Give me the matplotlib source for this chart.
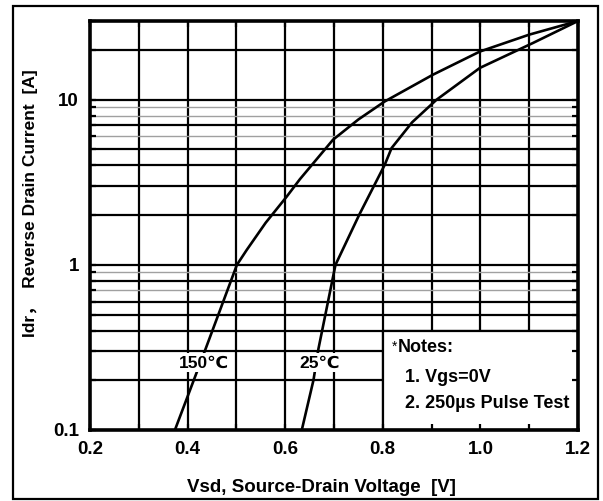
import matplotlib.pyplot as plt
from matplotlib.patches import Rectangle
from matplotlib.ticker import MultipleLocator, LogLocator, NullFormatter
import numpy as np

# curves
vsd_150 = [0.374, 0.436, 0.501, 0.521, 0.560, 0.603, 0.630, 0.698, 0.750, 0.804, 0.903, 0.999, 1.100, 1.200]
idr_150 = [0.10, 0.305, 1.00, 1.23, 1.80, 2.59, 3.30, 5.73, 7.60, 9.77, 14.2, 19.6, 24.8, 30.0]
vsd_25 = [0.634, 0.658, 0.668, 0.703, 0.752, 0.804, 0.818, 0.860, 0.910, 0.999, 1.108, 1.200]
idr_25 = [0.10, 0.201, 0.309, 1.00, 2.02, 4.04, 5.10, 7.30, 10.0, 15.6, 22.1, 30.0]

x_ticks = [0.2, 0.4, 0.6, 0.8, 1.0, 1.2]
x_tick_labels = ["0.2", "0.4", "0.6", "0.8", "1.0", "1.2"]
y_ticks = [0.1, 1, 10]
y_tick_labels = ["0.1", "1", "10"]
notes = ["1. Vgs=0V", "2. 250µs Pulse Test"]

FONT = ["Liberation Sans", "DejaVu Sans"]
plt.rcParams["font.family"] = FONT
plt.rcParams["font.weight"] = "bold"

fig = plt.figure(figsize=(6.03, 5.01), dpi=100)
ax = fig.add_axes([90 / 603, 71 / 501, 488 / 603, 409 / 501])
ax.set_yscale("log")
ax.set_xlim(0.2, 1.2)
ax.set_ylim(0.1, 30)

# grid drawn by hand so the notes box can sit on top of it
for x in np.arange(0.3, 1.15, 0.1):
    ax.axvline(x, color="black", lw=1.6, zorder=1)
h_black = [0.2, 0.3, 0.4, 0.5, 0.6, 0.8, 1, 2, 3, 4, 5, 7, 10, 20]
h_gray = [0.7, 0.9, 6, 8, 9]
for y in h_black:
    ax.axhline(y, color="black", lw=1.6, zorder=1)
for y in h_gray:
    ax.axhline(y, color="#a0a0a0", lw=1.0, zorder=1)

ax.plot(vsd_150, idr_150, color="black", lw=1.9, zorder=3)
ax.plot(vsd_25, idr_25, color="black", lw=1.9, zorder=3)

lbl_box = dict(boxstyle="square,pad=0.12", fc="white", ec="none")
ax.text(0.434, 0.255, "150℃", ha="center", va="center", fontsize=12.5,
        bbox=lbl_box, zorder=4)
ax.text(0.671, 0.255, "25℃", ha="center", va="center", fontsize=12.5,
        bbox=lbl_box, zorder=4)

ax.add_patch(Rectangle((0.8, 0.1), 0.4, 0.3, fc="white", ec="black",
                       lw=1.6, zorder=2))
ax.text(0.818, 0.318, "*", ha="left", va="center", fontsize=10,
        fontweight="normal", zorder=4)
ax.text(0.830, 0.318, "Notes:", ha="left", va="center", fontsize=13, zorder=4)
ax.text(0.845, 0.209, notes[0], ha="left", va="center", fontsize=13, zorder=4)
ax.text(0.845, 0.144, notes[1], ha="left", va="center", fontsize=13, zorder=4)

ax.set_axisbelow(False)
ax.set_xticks(x_ticks)
ax.set_xticklabels(x_tick_labels)
ax.xaxis.set_minor_locator(MultipleLocator(0.1))
ax.set_yticks(y_ticks)
ax.set_yticklabels(y_tick_labels)
ax.yaxis.set_minor_locator(LogLocator(subs=np.arange(2, 10)))
ax.yaxis.set_minor_formatter(NullFormatter())
ax.tick_params(which="both", direction="in", length=4, width=1.6,
               top=True, right=True, labelsize=13.5, pad=8)
for s in ax.spines.values():
    s.set_linewidth(2.6)

fig.text(321 / 603, 1 - 488 / 501, "Vsd, Source-Drain Voltage  [V]",
         ha="center", va="center", fontsize=13.5)
fig.text(31 / 603, 1 - 203 / 501, "Idr，  Reverse Drain Current  [A]",
         ha="center", va="center", rotation=90, fontsize=12.5,
         family=FONT + ["Noto Sans CJK SC"])

fig.add_artist(Rectangle((13 / 603, 2 / 501), 585 / 603, 493 / 501,
                         transform=fig.transFigure, fill=False,
                         ec="black", lw=1.6))

fig.savefig("out.png", dpi=100)
